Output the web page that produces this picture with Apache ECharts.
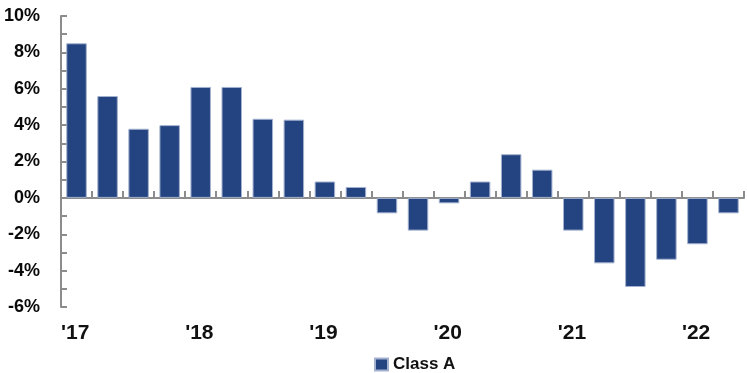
<!DOCTYPE html>
<html>
<head>
<meta charset="utf-8">
<style>
  html, body { margin: 0; padding: 0; background: #ffffff; }
  #chart { width: 747px; height: 373px; }
</style>
<script src="https://cdn.jsdelivr.net/npm/echarts@6/dist/echarts.min.js"></script>
</head>
<body>
<div id="chart"></div>
<script>
// Quarterly series, 1Q17 .. 2Q22
const quarters = [
  '1Q17', '2Q17', '3Q17', '4Q17',
  '1Q18', '2Q18', '3Q18', '4Q18',
  '1Q19', '2Q19', '3Q19', '4Q19',
  '1Q20', '2Q20', '3Q20', '4Q20',
  '1Q21', '2Q21', '3Q21', '4Q21',
  '1Q22', '2Q22'
];
// Class A, % change
const classA = [
  8.5, 5.6, 3.8, 4.0,
  6.1, 6.1, 4.35, 4.3,
  0.9, 0.6, -0.85, -1.8,
  -0.3, 0.9, 2.4, 1.55,
  -1.8, -3.6, -4.9, -3.4,
  -2.55, -0.85
];
// Year labels shown at the start of each year
const yearLabels = ["'17", "'18", "'19", "'20", "'21", "'22"];
const yMin = -6, yMax = 10, yStep = 2;

const seriesName = 'Class A';
const barColor = '#234480';
const axisGray = '#8c8c8c';
const boldFont = '"Liberation Sans", Arial, sans-serif';

// Label axis: one slot per quarter boundary (22 quarters -> 23 boundaries)
const boundaries = quarters.concat(['end']);
const yearAt = {};
quarters.forEach((q, i) => {
  if (q.startsWith('1Q')) {
    yearAt[i] = yearLabels[Math.floor(i / 4)];
  }
});

const chart = echarts.init(document.getElementById('chart'), null, { renderer: 'canvas' });

chart.setOption({
  animation: false,
  backgroundColor: '#ffffff',
  grid: { left: 61, right: 0, top: 16, bottom: 66, containLabel: false },
  legend: {
    data: [seriesName],
    left: 369,
    top: 351,
    itemWidth: 13,
    itemHeight: 12,
    icon: 'rect',
    textStyle: { fontFamily: boldFont, fontWeight: 'bold', fontSize: 17, color: '#111111' }
  },
  xAxis: [
    {
      // zero line with quarter ticks
      type: 'category',
      data: quarters,
      position: 'bottom',
      boundaryGap: true,
      axisLine: { onZero: true, lineStyle: { color: axisGray, width: 2 } },
      axisTick: { show: true, inside: true, length: 7, interval: 0, lineStyle: { color: axisGray, width: 2 } },
      axisLabel: { show: false },
      splitLine: { show: false }
    },
    {
      // year labels along the bottom
      type: 'category',
      data: boundaries,
      position: 'bottom',
      boundaryGap: false,
      axisLine: { show: false, onZero: false },
      axisTick: { show: false },
      splitLine: { show: false },
      axisLabel: {
        interval: 0,
        align: 'left',
        margin: 16,
        fontFamily: boldFont,
        fontWeight: 'bold',
        fontSize: 21,
        color: '#111111',
        formatter: (v, i) => yearAt[i] || ''
      }
    }
  ],
  yAxis: {
    type: 'value',
    min: yMin,
    max: yMax,
    interval: yStep,
    axisLine: { show: true, onZero: false, lineStyle: { color: axisGray, width: 2 } },
    axisTick: { show: true, inside: true, length: 6, lineStyle: { color: axisGray, width: 2 } },
    minorTick: { show: true, splitNumber: 2, length: 6, lineStyle: { color: axisGray, width: 2 } },
    splitLine: { show: false },
    axisLabel: {
      margin: 21,
      fontFamily: boldFont,
      fontWeight: 'bold',
      fontSize: 18,
      color: '#0a0a0a',
      formatter: v => v + '%'
    }
  },
  series: [
    {
      name: seriesName,
      type: 'bar',
      xAxisIndex: 0,
      data: classA,
      barCategoryGap: '34%',
      itemStyle: { color: barColor, borderColor: '#a3b1cf', borderWidth: 1 }
    }
  ]
});
</script>
</body>
</html>
